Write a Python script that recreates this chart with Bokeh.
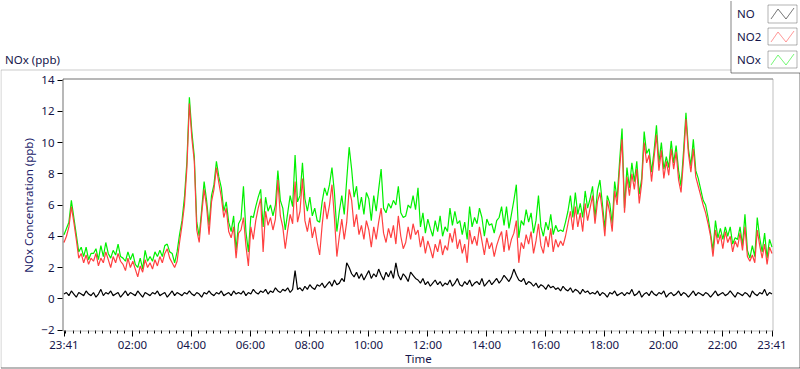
import numpy as np
from bokeh.plotting import figure
from bokeh.models import Range1d, FixedTicker, Label, PolyAnnotation
from bokeh.embed import file_html
from bokeh.resources import INLINE

# ---------------- data (minutes after 23:41, 5-minute samples) ----------------
minutes = list(range(0, 1441, 5))

no = [
    0.3, 0.4, 0.2, 0.5, 0.3, 0.1, 0.4, 0.3, 0.2, 0.5, 0.3, 0.2,
    0.4, 0.1, 0.3, 0.6, 0.2, 0.4, 0.3, 0.5, 0.2, 0.3, 0.4, 0.1,
    0.3, 0.5, 0.2, 0.4, 0.3, 0.2, 0.5, 0.3, 0.1, 0.4, 0.3, 0.2,
    0.4, 0.3, 0.5, 0.2, 0.3, 0.4, 0.1, 0.3, 0.5, 0.2, 0.4, 0.3,
    0.2, 0.4, 0.3, 0.5, 0.3, 0.2, 0.4, 0.3, 0.1, 0.4, 0.3, 0.5,
    0.3, 0.2, 0.4, 0.3, 0.5, 0.2, 0.3, 0.4, 0.2, 0.5, 0.3, 0.4,
    0.3, 0.5, 0.2, 0.4, 0.3, 0.6, 0.4, 0.3, 0.5, 0.4, 0.6, 0.3,
    0.5, 0.4, 0.7, 0.5, 0.4, 0.6, 0.5, 0.7, 0.4, 0.6, 1.8, 0.6,
    0.7, 0.5, 0.8, 0.6, 0.9, 0.7, 0.6, 0.9, 0.8, 1.0, 0.7, 0.9,
    1.1, 0.8, 1.2, 0.9, 1.0, 1.3, 1.1, 2.3, 2.0, 1.6, 1.4, 1.7,
    1.3, 1.6, 1.2, 1.5, 1.8, 1.3, 1.6, 1.4, 1.9, 1.5, 1.2, 1.7,
    1.4, 1.8, 1.3, 2.3, 1.5, 1.2, 1.6, 1.4, 1.1, 1.7, 1.5, 1.3,
    1.2, 1.0, 1.3, 0.9, 1.1, 0.8, 1.0, 1.2, 0.9, 1.1, 0.8, 1.0,
    0.9, 1.2, 0.8, 1.0, 1.3, 0.9, 0.8, 1.1, 0.9, 1.2, 0.8, 1.0,
    1.1, 0.9, 1.3, 0.8, 1.0, 1.2, 0.9, 1.1, 1.3, 1.0, 1.2, 1.5,
    1.3, 1.1, 1.4, 1.9, 1.5, 1.2, 1.1, 1.3, 0.9, 1.1, 1.0, 0.8,
    1.0, 0.7, 0.9, 0.8, 0.6, 0.9, 0.7, 0.8, 0.6, 0.7, 0.5, 0.8,
    0.6, 0.5, 0.7, 0.4, 0.6, 0.5, 0.3, 0.6, 0.4, 0.5, 0.3, 0.4,
    0.3, 0.5, 0.2, 0.4, 0.3, 0.1, 0.4, 0.3, 0.5, 0.2, 0.3, 0.4,
    0.2, 0.4, 0.3, 0.6, 0.2, 0.3, 0.5, 0.1, 0.3, 0.4, 0.2, 0.5,
    0.3, 0.2, 0.4, 0.3, 0.5, 0.1, 0.3, 0.4, 0.2, 0.3, 0.5, 0.2,
    0.4, 0.3, 0.1, 0.3, 0.5, 0.2, 0.4, 0.3, 0.2, 0.4, 0.3, 0.1,
    0.3, 0.5, 0.2, 0.3, 0.4, 0.2, 0.3, 0.5, 0.3, 0.1, 0.4, 0.3,
    0.2, 0.4, 0.3, 0.1, 0.5, 0.3, 0.2, 0.4, 0.3, 0.6, 0.2, 0.4,
    0.3,
]

no2 = [
    3.6, 4.0, 4.6, 5.9, 4.9, 3.8, 2.6, 2.9, 2.3, 2.8, 2.2, 2.6,
    2.4, 2.9, 2.1, 2.6, 2.3, 3.0, 2.5, 2.0, 2.7, 2.3, 2.9, 2.4,
    2.2, 1.8, 2.6, 2.0, 2.4, 1.9, 1.4, 2.1, 1.7, 2.5, 2.0, 2.3,
    1.9, 2.5, 2.1, 2.7, 2.3, 2.9, 3.2, 2.6, 2.3, 2.0, 2.4, 3.6,
    4.7, 6.0, 8.4, 12.5, 10.3, 8.8, 4.4, 3.6, 5.4, 7.0, 5.9, 4.1,
    6.2, 7.0, 8.4, 7.4, 6.5, 5.2, 5.8, 4.3, 3.9, 4.6, 2.6, 4.2,
    4.4, 5.2, 3.4, 2.1, 4.6, 3.8, 5.0, 5.8, 6.4, 3.0, 5.6, 4.7,
    5.2, 4.4, 5.1, 7.6, 5.3, 4.6, 3.2, 4.4, 5.4, 4.8, 7.5, 4.9,
    5.6, 7.7, 5.0, 4.3, 5.2, 3.9, 4.6, 3.6, 2.8, 4.7, 6.2, 5.1,
    6.0, 7.3, 5.2, 2.7, 4.0, 5.1, 3.8, 4.9, 7.0, 6.3, 4.6, 5.4,
    4.1, 4.7, 3.8, 5.0, 4.4, 3.3, 4.6, 3.8, 4.9, 5.8, 4.2, 3.6,
    4.5, 3.9, 4.7, 3.5, 5.3, 4.0, 3.2, 3.6, 4.6, 3.8, 4.8, 4.1,
    4.4, 3.3, 4.0, 2.9, 3.7, 3.2, 2.6, 3.5, 3.0, 3.8, 2.8, 3.4,
    3.1, 4.2, 3.6, 4.5, 3.2, 3.8, 2.9, 3.5, 2.3, 4.4, 3.5, 4.0,
    3.4, 4.6, 3.7, 2.8, 3.9, 3.2, 3.6, 2.7, 3.4, 3.9, 4.3, 3.0,
    4.4, 3.1, 3.8, 4.2, 5.0, 2.3, 3.6, 3.2, 4.1, 3.5, 4.3, 2.9,
    3.7, 4.8, 3.4, 2.9, 4.0, 3.3, 4.5, 3.0, 3.8, 3.3, 3.7, 3.4,
    4.0, 4.8, 5.6, 4.4, 5.9, 4.6, 5.5, 4.3, 6.1, 5.0, 5.8, 6.6,
    4.8, 6.2, 6.8, 5.6, 4.0, 6.3, 5.5, 4.3, 6.9, 6.0, 8.3, 10.2,
    5.5, 7.8, 6.6, 8.0, 7.0, 8.3, 6.1, 7.4, 10.0, 8.7, 9.2, 7.5,
    9.0, 10.5, 8.2, 9.5, 7.7, 8.8, 7.9, 9.6, 8.3, 9.4, 7.6, 6.8,
    8.9, 11.5, 9.3, 8.1, 9.6, 7.8, 7.2, 6.6, 6.0, 5.5, 4.8, 4.0,
    2.7, 4.4, 3.5, 4.1, 3.2, 4.3, 3.6, 4.0, 3.0, 3.7, 3.3, 4.2,
    3.1, 4.6, 2.7, 2.4, 2.8, 2.3, 4.4, 3.4, 2.6, 3.5, 2.2, 3.3,
    2.9,
]

nox = [
    4.1, 4.5, 4.9, 6.3, 5.2, 4.1, 3.0, 3.3, 2.7, 3.3, 2.5, 2.9,
    2.9, 3.2, 2.5, 3.4, 2.7, 3.6, 2.9, 2.6, 3.1, 2.8, 3.5, 2.7,
    2.6, 2.4, 3.0, 2.5, 2.9, 2.2, 2.0, 2.6, 1.9, 3.1, 2.4, 2.7,
    2.4, 3.0, 2.7, 3.1, 2.7, 3.4, 3.5, 3.0, 2.9, 2.3, 3.0, 4.1,
    5.0, 6.5, 8.8, 12.9, 10.7, 9.1, 4.9, 4.0, 5.7, 7.5, 6.3, 4.7,
    6.6, 7.3, 8.8, 7.8, 7.1, 5.6, 6.2, 4.9, 4.3, 5.3, 3.1, 4.8,
    5.1, 7.2, 4.3, 3.0, 5.3, 5.2, 5.9, 6.5, 7.0, 4.6, 6.5, 5.6,
    6.0, 5.3, 6.0, 8.2, 6.3, 5.8, 4.4, 5.5, 6.6, 5.9, 9.2, 6.2,
    6.6, 8.7, 6.4, 5.6, 6.5, 5.3, 5.8, 5.0, 4.9, 6.2, 7.1, 6.6,
    7.3, 8.4, 6.8, 4.3, 5.6, 6.6, 5.4, 7.6, 9.7, 8.3, 6.5, 7.2,
    5.7, 6.5, 5.4, 6.8, 6.4, 5.0, 6.6, 5.6, 7.0, 8.3, 5.8, 5.5,
    6.1, 5.8, 6.3, 6.0, 7.2, 5.5, 5.2, 5.3, 6.0, 5.8, 6.6, 5.7,
    7.1, 4.6, 5.5, 4.2, 5.1, 4.5, 4.0, 5.0, 4.3, 5.3, 4.0, 4.6,
    4.3, 5.8, 4.7, 5.6, 4.8, 5.0, 4.1, 4.9, 3.8, 5.9, 4.6, 5.2,
    4.8, 5.8, 5.2, 4.0, 5.1, 4.7, 4.8, 4.2, 5.0, 5.2, 5.9, 4.7,
    5.9, 4.5, 5.4, 6.3, 7.3, 3.9, 5.0, 4.7, 5.7, 4.9, 5.5, 4.2,
    5.0, 6.6, 4.6, 4.0, 4.9, 4.4, 5.4, 4.1, 4.7, 4.3, 4.4, 4.3,
    4.9, 5.6, 6.6, 5.2, 6.8, 5.4, 6.1, 5.2, 6.9, 5.8, 6.4, 7.2,
    5.2, 6.9, 7.6, 6.1, 4.5, 6.6, 6.1, 4.8, 7.5, 6.4, 8.8, 10.9,
    5.8, 8.4, 7.1, 8.7, 7.5, 8.8, 6.7, 7.7, 10.7, 9.3, 9.6, 8.1,
    9.4, 11.1, 8.7, 10.0, 8.3, 9.1, 8.4, 10.1, 8.7, 9.8, 8.2, 7.2,
    9.4, 11.9, 9.6, 8.5, 10.2, 8.2, 7.7, 7.0, 6.3, 6.0, 5.2, 4.2,
    3.1, 5.0, 3.9, 4.5, 3.8, 4.6, 4.0, 4.6, 3.5, 3.9, 3.8, 4.6,
    3.4, 5.4, 3.1, 2.6, 3.4, 2.7, 5.2, 3.9, 3.0, 4.2, 2.6, 3.8,
    3.3,
]

series_names = ["NO", "NO2", "NOx"]
series_colors = ["#000000", "#ff4040", "#00f000"]

tick_minutes = [0, 139, 259, 379, 499, 619, 739, 859, 979, 1099, 1219, 1339, 1440]
tick_labels = ["23:41", "02:00", "04:00", "06:00", "08:00", "10:00", "12:00",
               "14:00", "16:00", "18:00", "20:00", "22:00", "23:41"]
y_ticks = [-2, 0, 2, 4, 6, 8, 10, 12, 14]

assert len(no) == len(no2) == len(nox) == len(minutes)

# ---------------- layout geometry (canvas pixels) ----------------
W, H = 800, 369
X0_PX, X1_PX = 63.5, 771.5      # where 0 and 1440 minutes fall
YT_PX, YB_PX = 79.5, 329.5      # where 14 and -2 fall
kx = (X1_PX - X0_PX) / 1440.0
ky = (YB_PX - YT_PX) / 16.0
x_start = -X0_PX / kx
x_end = 1440 + (W - X1_PX) / kx
y_end = 14 + YT_PX / ky
y_start = -2 - (H - YB_PX) / ky

FONT = "Noto Sans"
FS = "11.5px"
TXT = "#15154a"

p = figure(width=W, height=H, x_range=Range1d(x_start, x_end), y_range=Range1d(y_start, y_end),
           output_backend="svg", toolbar_location=None, title=None,
           min_border=0, min_border_left=0, min_border_right=0,
           min_border_top=0, min_border_bottom=0,
           x_axis_label="Time", y_axis_label="NOx Concentration (ppb)")
p.grid.visible = False
p.outline_line_color = None
p.background_fill_color = "white"
p.border_fill_color = "white"

# data lines (NOx underneath, then NO2, then NO)
p.line(minutes, nox, line_color=series_colors[2], line_width=1.2)
p.line(minutes, no2, line_color=series_colors[1], line_width=1.2)
p.line(minutes, no, line_color=series_colors[0], line_width=1.2)

# x axis, fixed at the bottom of the plotting area
xa = p.xaxis[0]
minor = [m for m in range(4, 1440, 15) if m not in tick_minutes]
xa.ticker = FixedTicker(ticks=tick_minutes, minor_ticks=minor)
xa.major_label_overrides = {m: l for m, l in zip(tick_minutes, tick_labels)}
xa.fixed_location = -2 - 0.5 / ky
xa.bounds = (0, 1440)
xa.axis_line_color = None
xa.major_tick_line_color = "black"
xa.minor_tick_line_color = "black"
xa.major_tick_in = 0
xa.major_tick_out = 6
xa.minor_tick_in = 0
xa.minor_tick_out = 3
xa.major_label_standoff = 0
xa.axis_label_standoff = -4
xa.major_label_text_font = FONT
xa.major_label_text_font_size = FS
xa.major_label_text_color = TXT
xa.axis_label_text_font = FONT
xa.axis_label_text_font_size = FS
xa.axis_label_text_font_style = "normal"
xa.axis_label_text_color = TXT

# y axis, fixed at the left of the plotting area
ya = p.yaxis[0]
ya.ticker = FixedTicker(ticks=y_ticks, minor_ticks=[])
ya.fixed_location = -1.5 / kx
ya.bounds = (-2, 14)
ya.axis_line_color = None
ya.major_tick_line_color = "black"
ya.major_tick_in = 0
ya.major_tick_out = 5
ya.minor_tick_line_color = None
ya.major_label_standoff = 3
ya.axis_label_standoff = 2
ya.major_label_text_font = FONT
ya.major_label_text_font_size = FS
ya.major_label_text_color = TXT
ya.axis_label_text_font = FONT
ya.axis_label_text_font_size = FS
ya.axis_label_text_font_style = "normal"
ya.axis_label_text_color = "#1c1c6a"


# ---- decorations in screen units (column / row of the 800x369 picture) ----
def sx(col):
    return col + 0.5


def sy(row):
    return H - (row + 0.5)


def path(points, color):
    xs = [sx(c) for c, r in points]
    ys = [sy(r) for c, r in points]
    p.add_layout(PolyAnnotation(xs=xs, ys=ys, xs_units="screen", ys_units="screen",
                                line_color=color, line_width=1, fill_alpha=0))


# plot-area frame: black top/left, gray right/bottom
path([(772, 78), (62, 78), (62, 330), (62, 78)], "black")
path([(62, 330), (772, 330), (772, 78), (772, 330)], "#8c8c8c")

# outer panel frame: gray top/left, black bottom/right
path([(730, 69), (0, 69), (0, 367), (0, 69)], "#a0a0a0")
path([(0, 367), (799, 367), (799, 72), (799, 367)], "black")

# y-unit caption
p.add_layout(Label(x=sx(4), y=sy(58), x_units="screen", y_units="screen",
                   text="NOx (ppb)", text_font=FONT, text_font_size=FS,
                   text_color=TXT, text_baseline="middle"))

# legend panel
path([(730, 0), (730, 72), (799, 72), (730, 72)], "#202020")
box_rows = [(4, 22), (27, 44), (50, 67)]
for idx, (r0, r1) in enumerate(box_rows):
    p.add_layout(Label(x=sx(736), y=sy((r0 + r1) / 2.0 - 0.5), x_units="screen",
                       y_units="screen", text=series_names[idx], text_font=FONT,
                       text_font_size=FS, text_color=TXT, text_baseline="middle"))
    path([(767, r0), (796, r0), (796, r1), (767, r1), (767, r0)], "black")
    zz = [(770, r0 + 14), (777, r0 + 4), (785, r0 + 14), (793, r0 + 3),
          (785, r0 + 14), (777, r0 + 4)]
    path(zz, series_colors[idx])

open("out.html", "w").write(file_html(p, INLINE))
